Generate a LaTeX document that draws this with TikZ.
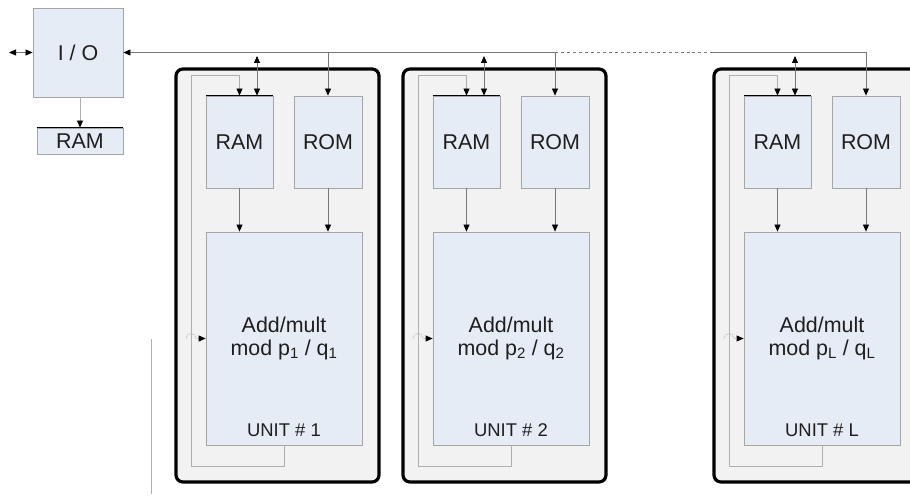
\documentclass[tikz,border=0pt]{standalone}
\usepackage{fontspec}
\setmainfont{Liberation Sans}
\usetikzlibrary{arrows.meta}

\definecolor{boxblue}{RGB}{230,236,246}
\definecolor{unitgray}{RGB}{242,242,242}
\definecolor{wire}{RGB}{120,120,120}
\definecolor{wirelight}{RGB}{175,175,175}
\definecolor{boxedge}{RGB}{165,165,165}
\definecolor{ink}{RGB}{30,30,30}

\tikzset{
  >={Triangle[length=7bp,width=6bp,color=black]},
  blockbox/.style={draw=boxedge, fill=boxblue, line width=0.8bp, inner sep=0pt,
    text=ink, font=\fontsize{21.5}{23}\selectfont, align=center},
  unitframe/.style={draw=black, fill=unitgray, line width=3.2bp,
    rounded corners=7bp, inner sep=0pt},
  unitlabel/.style={inner sep=0pt, text=ink, font=\fontsize{18.5}{20}\selectfont},
  wireline/.style={draw=wire, line width=0.8bp},
  loopline/.style={draw=wirelight, line width=0.8bp},
  topedge/.style={draw=black, line width=1bp},
}

\begin{document}
\begin{tikzpicture}[x=1bp, y=-1bp]
  \useasboundingbox (0,0) rectangle (910,498);

  % host side: I/O block with its own RAM
  \node[blockbox, minimum width=90bp, minimum height=89bp] (io) at (78,52.5) {I / O};
  \node[blockbox, minimum width=86bp, minimum height=26bp] (ramio) at (80,141) {RAM};
  \draw[topedge] (ramio.north west) -- (ramio.north east);
  \coordinate (ext) at (9,52.5);
  \draw[wireline, <->] (ext) -- (io.west);
  \draw[loopline, ->] (ramio.north |- io.south) -- (ramio.north);

  \coordinate (busy) at (0,52.5);

  % one processing unit per modulus
  \foreach \o/\n in {0/1, 227/2, 538/L}{
    \begin{scope}[shift={(\o,0)}]
      \node[unitframe, minimum width=203bp, minimum height=413bp] (unit\n) at (277.5,275.5) {};
      \node[blockbox, minimum width=67bp, minimum height=92bp] (ram\n) at (239.5,142) {RAM};
      \node[blockbox, minimum width=68bp, minimum height=92bp] (rom\n) at (328,142) {ROM};
      \draw[topedge] (ram\n.north west) -- (ram\n.north east);
      \node[blockbox, minimum width=156bp, minimum height=213bp] (add\n) at (284,338.5)
        {Add/mult\\mod p\textsubscript{\n} / q\textsubscript{\n}};
      \node[unitlabel] (lbl\n) at (284,430.5) {UNIT \# \n};

      % memories feed the arithmetic block
      \draw[wireline, ->] (ram\n.south) -- (ram\n.south |- add\n.north);
      \draw[wireline, ->] (rom\n.south) -- (rom\n.south |- add\n.north);

      % result loop back into the unit RAM
      \coordinate (lb\n) at (191,466);
      \coordinate (lt\n) at (191,75);
      \draw[loopline, ->] (add\n.south) |- (lb\n) -- (lt\n) -| (ram\n.north);

      % loop input to the arithmetic block, hopping over the loop wire
      \coordinate (hop\n) at (186,338.5);
      \draw[loopline, densely dotted, ->] (hop\n) arc[start angle=180, end angle=0, radius=5bp]
        -- (add\n.west);

      % RAM exchange with the bus
      \coordinate (bt\n) at (257,56);
      \draw[wireline, <->] (bt\n) -- (bt\n |- ram\n.north);
    \end{scope}
  }

  % ROM loads from the bus
  \draw[wireline, ->] (rom1.north |- busy) -- (rom1.north);
  \draw[wireline, ->] (rom2.north |- busy) -- (rom2.north);

  % common bus back to the I/O block
  \draw[wireline, ->] (rom2.north |- busy) -- (io.east);
  \coordinate (dashend) at (713,52.5);
  \draw[wireline, dashed] (rom2.north |- busy) -- (dashend);
  \draw[wireline, ->] (dashend) -| (romL.north);

  % stray wire on the left
  \coordinate (va) at (151,339);
  \coordinate (vb) at (151,494);
  \draw[loopline] (va) -- (vb);
\end{tikzpicture}
\end{document}
